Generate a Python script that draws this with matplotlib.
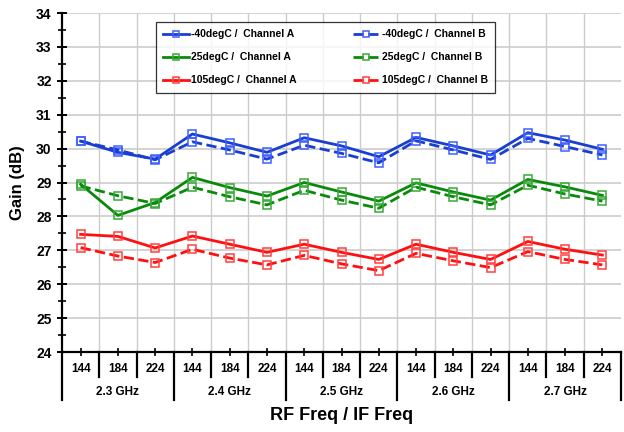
import matplotlib.pyplot as plt
import matplotlib.transforms as mtransforms
import numpy as np

rf_groups = ["2.3 GHz", "2.4 GHz", "2.5 GHz", "2.6 GHz", "2.7 GHz"]
if_freqs = ["144", "184", "224"]

m40_a = [30.22, 29.89, 29.69, 30.43, 30.17, 29.89, 30.32, 30.08, 29.76, 30.33, 30.08, 29.81, 30.47, 30.25, 29.98]
m40_b = [30.22, 29.96, 29.67, 30.20, 29.96, 29.69, 30.10, 29.86, 29.58, 30.23, 29.96, 29.68, 30.30, 30.06, 29.81]
p25_a = [28.95, 28.03, 28.41, 29.15, 28.85, 28.60, 29.00, 28.72, 28.45, 28.99, 28.72, 28.48, 29.09, 28.87, 28.62]
p25_b = [28.90, 28.61, 28.38, 28.86, 28.58, 28.34, 28.77, 28.48, 28.24, 28.86, 28.58, 28.34, 28.92, 28.66, 28.45]
p105_a = [27.47, 27.41, 27.07, 27.42, 27.18, 26.94, 27.18, 26.94, 26.73, 27.18, 26.94, 26.73, 27.26, 27.03, 26.86]
p105_b = [27.08, 26.83, 26.64, 27.03, 26.77, 26.57, 26.85, 26.60, 26.40, 26.91, 26.69, 26.49, 26.96, 26.73, 26.57]

series = [
    ("-40degC /  Channel A", m40_a, "#1a3fd0", "#3f5fff", "-"),
    ("25degC /  Channel A", p25_a, "#0a8a0a", "#3aa83a", "-"),
    ("105degC /  Channel A", p105_a, "#ff1010", "#ff4040", "-"),
    ("-40degC /  Channel B", m40_b, "#1a3fd0", "#3f5fff", "--"),
    ("25degC /  Channel B", p25_b, "#0a8a0a", "#3aa83a", "--"),
    ("105degC /  Channel B", p105_b, "#ff1010", "#ff4040", "--"),
]

plt.rcParams['font.family'] = ['Liberation Sans', 'DejaVu Sans']
fig = plt.figure(figsize=(6.24, 4.32), dpi=100)
ax = fig.add_axes([62 / 624, 1 - 352 / 432, 559 / 624, 339 / 432])

x = np.arange(len(m40_a))
for label, vals, col, mcol, ls in series:
    ax.plot(x, vals, linestyle=ls, color=col, lw=2, marker="s", markersize=6,
            markerfacecolor="none", markeredgecolor=mcol, markeredgewidth=1.1,
            label=label, zorder=3)

ax.set_xlim(-0.5, len(x) - 0.5)
ax.set_ylim(24, 34)
ax.set_yticks(range(24, 35))
ax.set_yticks(np.arange(24.5, 34, 1), minor=True)
ax.tick_params(axis="y", which="major", direction="inout", length=7, width=1.4,
               labelsize=10, pad=4)
ax.tick_params(axis="y", which="minor", direction="inout", length=6, width=1.2)
for t in ax.get_yticklabels():
    t.set_fontweight("bold")

# vertical grid at category boundaries
bounds = np.arange(0.5, len(x) - 0.5, 1)
for b in bounds:
    ax.axvline(b, color="#cccccc", lw=1, zorder=1)
ax.yaxis.grid(True, color="#cccccc", lw=1.2, zorder=1)
ax.set_axisbelow(True)

ax.set_xticks(x)
ax.set_xticklabels([])
ax.tick_params(axis="x", direction="inout", length=6, width=1.2)

for s in ["top", "right"]:
    ax.spines[s].set_visible(False)
ax.spines["left"].set_linewidth(1.6)
ax.spines["bottom"].set_linewidth(1.6)

trans = mtransforms.blended_transform_factory(ax.transData, ax.transAxes)
h = 339.0
for i in range(len(x)):
    ax.text(i, -17 / h, if_freqs[i % 3], transform=trans, ha="center",
            va="center", fontsize=8.5, fontweight="bold")
for b in np.arange(-0.5, len(x) + 0.5, 1):
    if abs((b + 0.5) % 3) < 1e-6:
        depth = 48 / h
    else:
        depth = 25 / h
    ax.plot([b, b], [0, -depth], transform=trans, color="black", lw=1.6,
            clip_on=False)
for g, name in enumerate(rf_groups):
    ax.text(g * 3 + 1, -40 / h, name, transform=trans, ha="center",
            va="center", fontsize=8.5, fontweight="bold")

ax.set_ylabel("Gain (dB)", fontsize=12, fontweight="bold", labelpad=8)
fig.text((62 + 621) / 2 / 624, 1 - 416 / 432, "RF Freq / IF Freq",
         ha="center", va="center", fontsize=13, fontweight="bold")

leg = ax.legend(ncol=2, loc="upper left", mode="expand",
                bbox_to_anchor=(94 / 559, 1 - 9 / 339, 339 / 559, 0.0),
                prop={"weight": "bold", "size": 7.5},
                frameon=True, fancybox=False, edgecolor="black",
                handlelength=2.5, handletextpad=0.2,
                labelspacing=1.25, borderpad=0.7, borderaxespad=0,
                markerscale=0.75)
leg.get_frame().set_linewidth(0.9)

fig.savefig("out.png", dpi=100)
